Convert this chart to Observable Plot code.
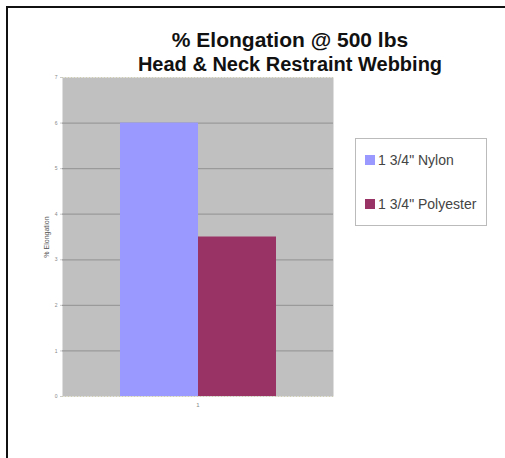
<!DOCTYPE html>
<html>
<head>
<meta charset="utf-8">
<script src="https://cdn.jsdelivr.net/npm/d3@7"></script>
<script src="https://cdn.jsdelivr.net/npm/@observablehq/plot@0.6"></script>
<style>
  html, body { margin: 0; padding: 0; background: #fff; }
  #wrap { position: relative; width: 505px; height: 458px; overflow: hidden; font-family: "Liberation Sans", Arial, sans-serif; }
  #border { position: absolute; left: 6px; top: 6px; width: 600px; height: 600px; border-left: 2px solid #111; border-top: 2px solid #111; box-sizing: border-box; }
  #title { position: absolute; left: 90px; width: 400px; text-align: center; top: 27px; font-weight: bold; font-size: 21px; color: #111; line-height: 26px; }
  #subtitle { position: absolute; left: 40px; width: 500px; text-align: center; top: 52px; font-weight: bold; font-size: 20px; color: #111; line-height: 24px; }
  #chart { position: absolute; left: 0; top: 0; }
  #legend { position: absolute; left: 355px; top: 138px; width: 132px; height: 88px; border: 1px solid #bbb; background: #fff; box-sizing: border-box; font-size: 14px; color: #444; }
  .item { position: absolute; left: 9px; display: flex; align-items: center; white-space: nowrap; }
  .sw { width: 10px; height: 10px; margin-right: 3px; }
</style>
</head>
<body>
<div id="wrap">
  <div id="border"></div>
  <div id="chart"></div>
  <div id="title"></div>
  <div id="subtitle"></div>
  <div id="legend"></div>
</div>
<script>
const titleText = "% Elongation @ 500 lbs";
const subtitleText = "Head & Neck Restraint Webbing";
const yLabel = "% Elongation";
const category = "1";
const series = ["1 3/4\" Nylon", "1 3/4\" Polyester"];
const values = [6, 3.5];
const colors = ["#9999ff", "#993366"];
const yTicks = [0, 1, 2, 3, 4, 5, 6, 7];

const data = series.map((s, i) => ({series: s, value: values[i]}));

document.getElementById("title").textContent = titleText;
document.getElementById("subtitle").textContent = subtitleText;

const plot = Plot.plot({
  width: 505,
  height: 458,
  marginLeft: 62,
  marginRight: 172,
  marginTop: 77,
  marginBottom: 62,
  style: {background: "transparent", fontFamily: "Liberation Sans, Arial, sans-serif"},
  x: {domain: series, paddingInner: 0, paddingOuter: 0.737, axis: null},
  y: {domain: [0, 7]},
  color: {domain: series, range: colors},
  marks: [
    Plot.frame({fill: "#c0c0c0", stroke: null}),
    Plot.gridY(yTicks.filter(t => t > 0 && t < 7), {stroke: "#9a9a9a", strokeOpacity: 1, strokeWidth: 1.3}),
    Plot.ruleY([0, 7], {stroke: "#d0d0b0", strokeDasharray: "1,2", strokeWidth: 1}),
    Plot.barY(data, {x: "series", y: "value", fill: "series"}),
    Plot.axisY(yTicks, {tickSize: 2, tickPadding: 3, fontSize: 5, color: "#888", stroke: "#ccc",
      label: yLabel, labelAnchor: "center", labelArrow: "none", labelOffset: 18}),
    Plot.text([category], {frameAnchor: "bottom", dy: 10, fontSize: 6, fill: "#888"})
  ]
});
plot.querySelectorAll("g[aria-label='y-axis label'] text").forEach(t => { t.setAttribute("font-size", "7"); t.setAttribute("fill", "#555"); });
document.getElementById("chart").appendChild(plot);

const legend = document.getElementById("legend");
series.forEach((s, i) => {
  const item = document.createElement("div");
  item.className = "item";
  item.style.top = (i === 0 ? 13 : 57) + "px";
  const sw = document.createElement("div");
  sw.className = "sw";
  sw.style.background = colors[i];
  const tx = document.createElement("span");
  tx.textContent = s;
  item.appendChild(sw);
  item.appendChild(tx);
  legend.appendChild(item);
});
</script>
</body>
</html>
